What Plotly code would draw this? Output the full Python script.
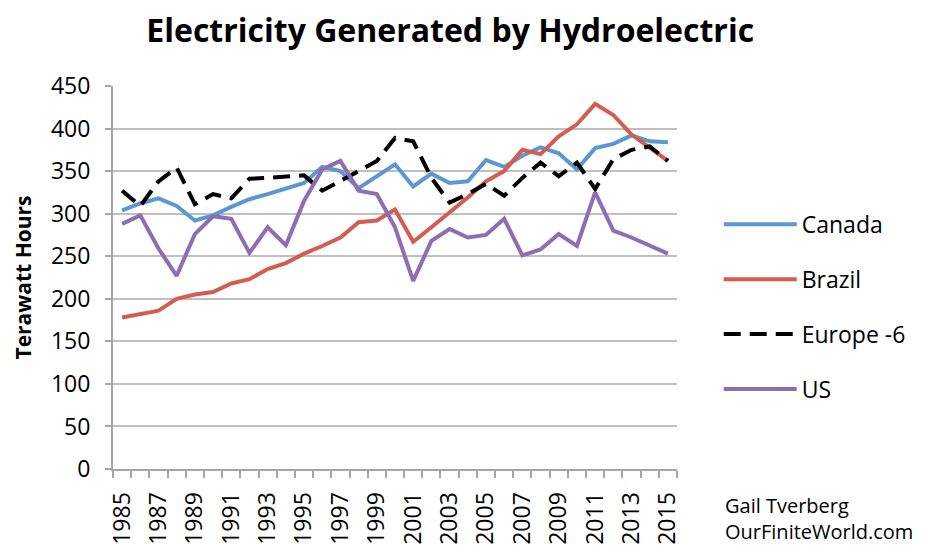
import plotly.graph_objects as go

years = list(range(1985, 2016))
canada = [304, 312, 318, 309, 292, 298, 308, 317, 323, 329, 336, 355, 350, 330, 344, 358, 332, 347, 336, 338, 363, 355, 368, 378, 371, 352, 377, 382, 392, 385, 384]
brazil = [178, 182, 186, 200, 205, 208, 218, 223, 235, 242, 253, 262, 272, 290, 292, 305, 267, 284, 301, 319, 338, 350, 375, 370, 391, 405, 429, 416, 393, 378, 362]
europe6 = [327, 309, 338, 354, 311, 323, 318, 341, 342, 343, 345, 327, 338, 350, 362, 389, 385, 342, 313, 323, 335, 321, 342, 360, 344, 360, 329, 364, 375, 379, 362]
us = [288, 298, 259, 227, 276, 297, 294, 254, 284, 263, 315, 352, 362, 327, 323, 284, 221, 268, 282, 272, 275, 294, 251, 258, 276, 262, 325, 280, 272, 262, 253]
yticks = [0, 50, 100, 150, 200, 250, 300, 350, 400, 450]
xlabels = list(range(1985, 2016, 2))

FONT = "Open Sans"
fig = go.Figure()
fig.add_trace(go.Scatter(x=years, y=canada, name="Canada", mode="lines", legendgroup="a",
                         line=dict(color="#5B97D1", width=4)))
fig.add_trace(go.Scatter(x=years, y=brazil, name="Brazil", mode="lines", legendgroup="b",
                         line=dict(color="#D45C50", width=4)))
fig.add_trace(go.Scatter(x=years, y=europe6, name="Europe -6", mode="lines", legendgroup="c",
                         line=dict(color="#000000", width=4, dash="17px,9px")))
fig.add_trace(go.Scatter(x=years, y=us, name="US", mode="lines", legendgroup="d",
                         line=dict(color="#8D6DB3", width=4)))

# page body adds an 8px offset; margins compensate
fig.update_layout(
    width=929, height=548,
    margin=dict(l=105, r=260, t=78, b=87, autoexpand=False),
    paper_bgcolor="white", plot_bgcolor="white",
    font=dict(family=FONT, color="#000000"),
    title=dict(text="<b>Electricity Generated by Hydroelectric</b>", x=0.476, xanchor="center",
               y=0.958, yanchor="middle", font=dict(size=32, family=FONT)),
    showlegend=True,
    legend=dict(x=1.074, y=0.695, xanchor="left", yanchor="top", font=dict(size=23),
                tracegroupgap=22, itemwidth=73, bgcolor="rgba(0,0,0,0)"),
    xaxis=dict(range=[1984.5, 2015.5], tickmode="array", tickvals=xlabels,
               ticktext=[str(v) for v in xlabels], tickangle=-90, ticks="outside",
               ticklen=12, tickcolor="rgba(0,0,0,0)", automargin=False,
               tickfont=dict(size=23), showgrid=False, showline=True,
               linecolor="#A6A6A6", linewidth=2, zeroline=False,
               minor=dict(tickmode="array", tickvals=[y + 0.5 for y in range(1984, 2016)],
                          ticks="outside", ticklen=7, tickcolor="#A6A6A6", tickwidth=2, showgrid=False)),
    yaxis=dict(range=[0, 450], tickmode="array", tickvals=yticks, ticks="outside",
               ticklen=6, tickcolor="#A6A6A6", tickwidth=2, tickfont=dict(size=23),
               ticklabelstandoff=10, automargin=False,
               showgrid=True, gridcolor="#BFBFBF", gridwidth=2, showline=True,
               linecolor="#A6A6A6", linewidth=2, zeroline=False,
               title=dict(text="<b>Terawatt Hours</b>", font=dict(size=21), standoff=14)),
)

fig.add_annotation(text="Gail Tverberg<br>OurFiniteWorld.com", xref="paper", yref="paper",
                   x=1.082, y=-0.055, xanchor="left", yanchor="top", align="left",
                   showarrow=False, font=dict(size=20, family=FONT))

fig.write_html("out.html")
